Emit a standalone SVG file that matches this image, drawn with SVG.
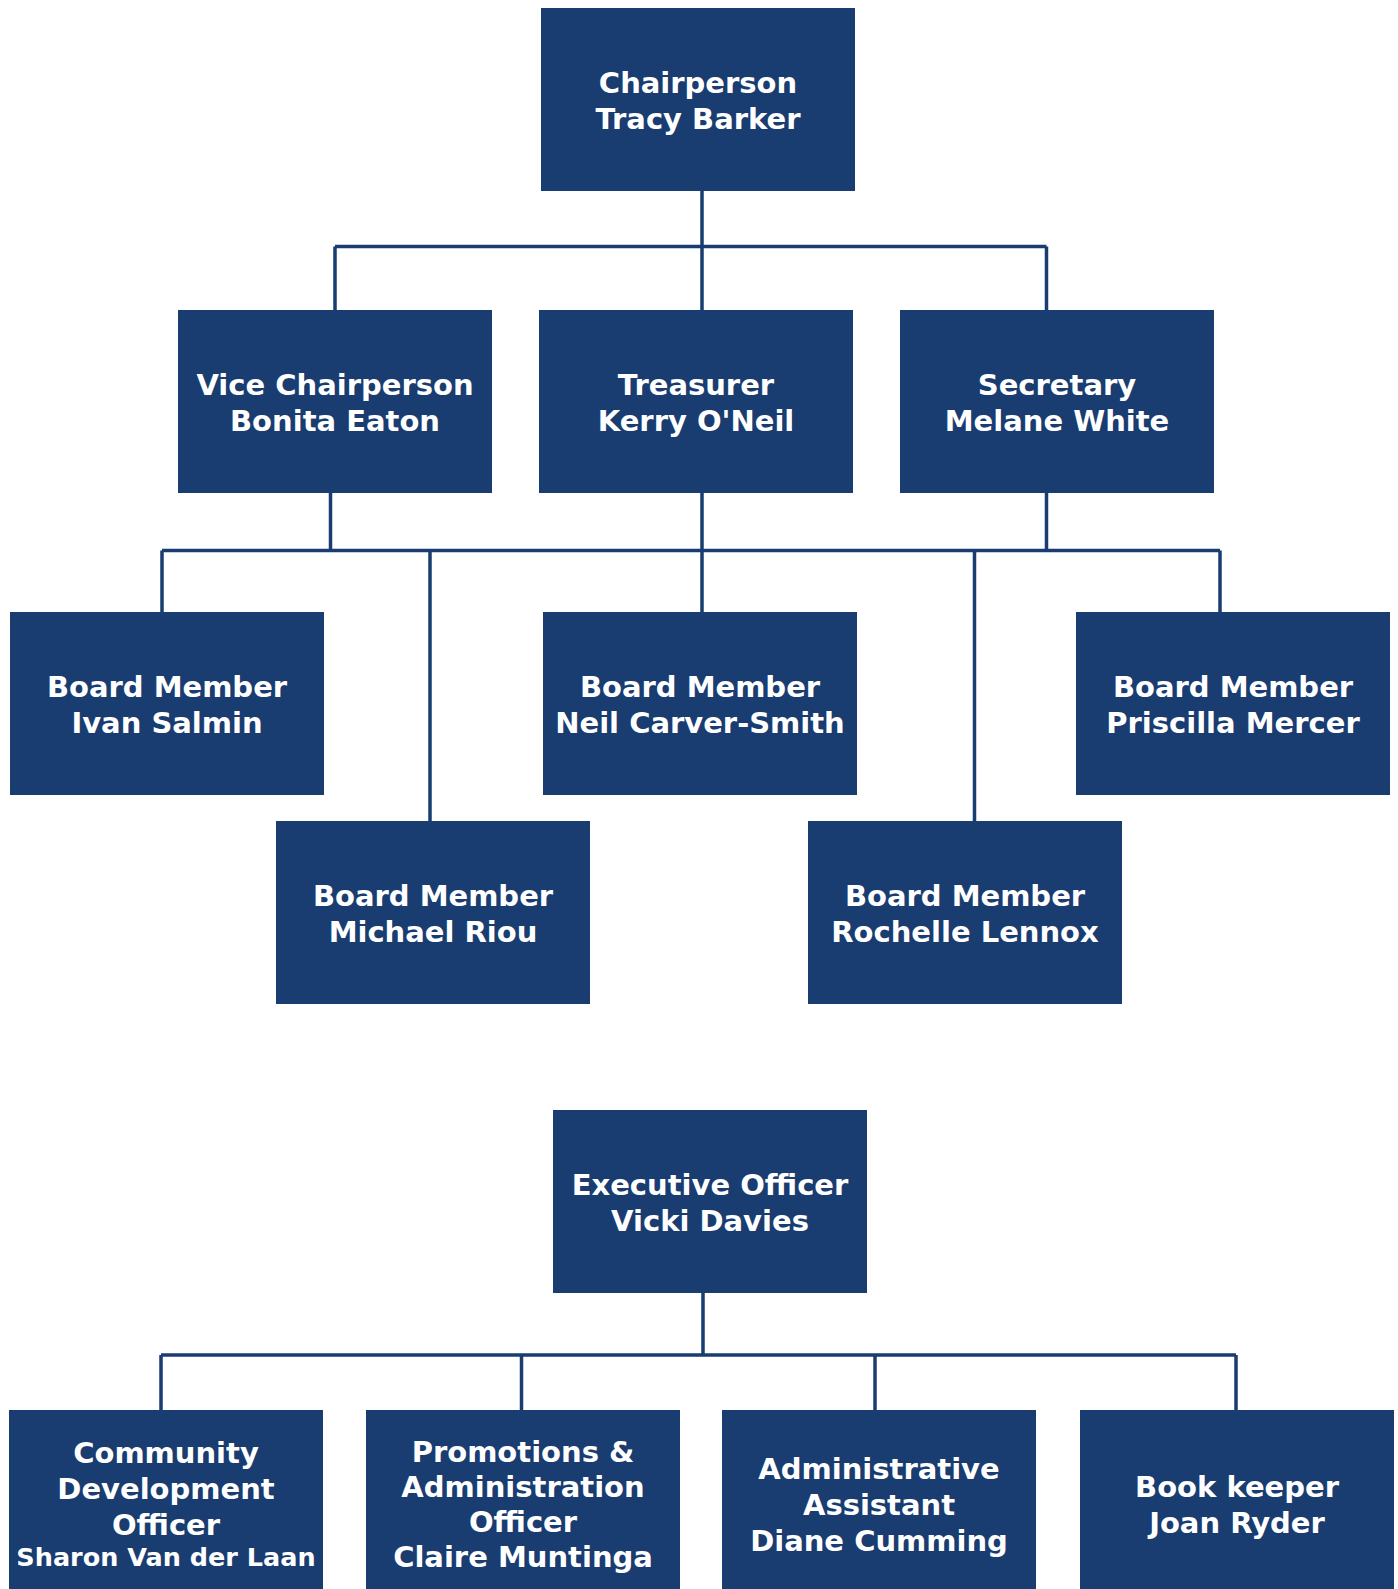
<svg xmlns="http://www.w3.org/2000/svg" width="1398" height="1589" viewBox="0 0 1398 1589">
<style>
.box{fill:#193c71}
.t{font-family:"DejaVu Sans","Verdana",sans-serif;font-weight:bold;font-size:29px;fill:#ffffff;text-anchor:middle}
.s{font-size:25.5px}
.c{fill:none;stroke:#193c71;stroke-width:3.5}
</style>
<rect width="1398" height="1589" fill="#ffffff"/>
<g id="connectors">
<path class="c" d="M702 190V310M335 246.5H1046.5M335 246.5V310M1046.5 246.5V310"/>
<path class="c" d="M330.5 492V550.5M702 492V612M1046.5 492V550.5M162 550.5H1220M162 550.5V612M430 550.5V821M974.5 550.5V821M1220 550.5V612"/>
<path class="c" d="M703 1292V1355M161 1355H1236M161 1355V1410M521.5 1355V1410M875 1355V1410M1236 1355V1410"/>
</g>
<g id="chair"><rect class="box" x="541" y="8" width="314" height="183"/><text class="t" x="698" y="93">Chairperson</text><text class="t" x="698" y="129">Tracy Barker</text></g>
<g id="vice"><rect class="box" x="178" y="310" width="314" height="183"/><text class="t" x="335" y="395">Vice Chairperson</text><text class="t" x="335" y="431">Bonita Eaton</text></g>
<g id="treasurer"><rect class="box" x="539" y="310" width="314" height="183"/><text class="t" x="696" y="395">Treasurer</text><text class="t" x="696" y="431">Kerry O'Neil</text></g>
<g id="secretary"><rect class="box" x="900" y="310" width="314" height="183"/><text class="t" x="1057" y="395">Secretary</text><text class="t" x="1057" y="431">Melane White</text></g>
<g id="ivan"><rect class="box" x="10" y="612" width="314" height="183"/><text class="t" x="167" y="697">Board Member</text><text class="t" x="167" y="733">Ivan Salmin</text></g>
<g id="neil"><rect class="box" x="543" y="612" width="314" height="183"/><text class="t" x="700" y="697">Board Member</text><text class="t" x="700" y="733">Neil Carver-Smith</text></g>
<g id="priscilla"><rect class="box" x="1076" y="612" width="314" height="183"/><text class="t" x="1233" y="697">Board Member</text><text class="t" x="1233" y="733">Priscilla Mercer</text></g>
<g id="michael"><rect class="box" x="276" y="821" width="314" height="183"/><text class="t" x="433" y="906">Board Member</text><text class="t" x="433" y="942">Michael Riou</text></g>
<g id="rochelle"><rect class="box" x="808" y="821" width="314" height="183"/><text class="t" x="965" y="906">Board Member</text><text class="t" x="965" y="942">Rochelle Lennox</text></g>
<g id="exec"><rect class="box" x="553" y="1110" width="314" height="183"/><text class="t" x="710" y="1195">Executive Officer</text><text class="t" x="710" y="1231">Vicki Davies</text></g>
<g id="community"><rect class="box" x="9" y="1410" width="314" height="183"/><text class="t" x="166" y="1463">Community</text><text class="t" x="166" y="1499">Development</text><text class="t" x="166" y="1535">Officer</text><text class="t s" x="166" y="1566">Sharon Van der Laan</text></g>
<g id="promotions"><rect class="box" x="366" y="1410" width="314" height="183"/><text class="t" x="523" y="1462">Promotions &amp;</text><text class="t" x="523" y="1497">Administration</text><text class="t" x="523" y="1532">Officer</text><text class="t" x="523" y="1567">Claire Muntinga</text></g>
<g id="admin"><rect class="box" x="722" y="1410" width="314" height="183"/><text class="t" x="879" y="1479">Administrative</text><text class="t" x="879" y="1515">Assistant</text><text class="t" x="879" y="1551">Diane Cumming</text></g>
<g id="bookkeeper"><rect class="box" x="1080" y="1410" width="314" height="183"/><text class="t" x="1237" y="1497">Book keeper</text><text class="t" x="1237" y="1533">Joan Ryder</text></g>
</svg>
